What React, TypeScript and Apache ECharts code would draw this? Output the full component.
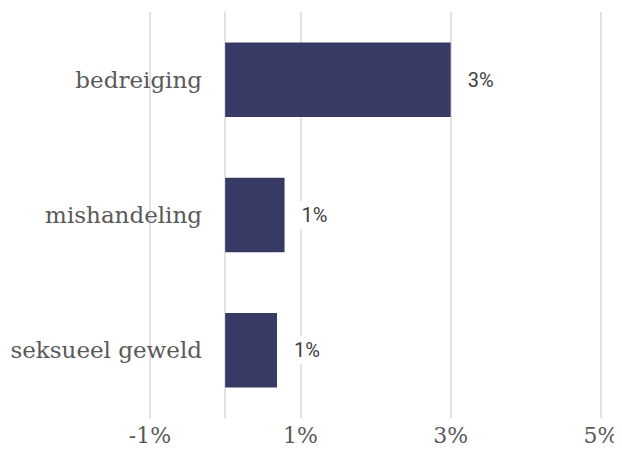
import React, { useEffect, useRef } from "react";
import * as echarts from "echarts";

const categories = ["bedreiging", "mishandeling", "seksueel geweld"];
const values = [3.0, 0.79, 0.69];
const valueLabels = ["3%", "1%", "1%"];

export default function App() {
  const ref = useRef<HTMLDivElement>(null);
  useEffect(() => {
    const chart = echarts.init(ref.current!, null, { renderer: "svg" });
    chart.setOption({
      animation: false,
      grid: { left: 150, right: 21, top: 12, bottom: 45, containLabel: false, outerBoundsMode: "none" },
      xAxis: {
        type: "value",
        min: -1,
        max: 5,
        interval: 2,
        axisLine: { show: false },
        axisTick: { show: false },
        splitLine: { show: true, lineStyle: { color: "#d9d9d9", width: 1.5 } },
        axisLabel: {
          formatter: (v: number) => `${v}%`,
          fontFamily: "DejaVu Serif",
          fontSize: 22,
          color: "#595959",
          margin: 6,
        },
      },
      yAxis: {
        type: "category",
        data: categories,
        inverse: true,
        axisLine: { show: true, onZero: true, lineStyle: { color: "#d9d9d9", width: 1.5 } },
        axisTick: { show: false },
        axisLabel: {
          fontFamily: "DejaVu Serif",
          fontSize: 23,
          color: "#595959",
          margin: -52,
        },
      },
      series: [
        {
          type: "bar",
          data: values,
          barWidth: "55%",
          itemStyle: { color: "#373a65" },
          label: {
            show: true,
            position: "right",
            distance: 13,
            formatter: (p: any) => valueLabels[p.dataIndex],
            fontFamily: "Roboto",
            fontSize: 20,
            color: "#404040",
            backgroundColor: "#ffffff",
            padding: [4, 4],
          },
        },
      ],
    });
    return () => chart.dispose();
  }, []);
  return <div ref={ref} style={{ width: 622, height: 463, margin: -8 }} />;
}
